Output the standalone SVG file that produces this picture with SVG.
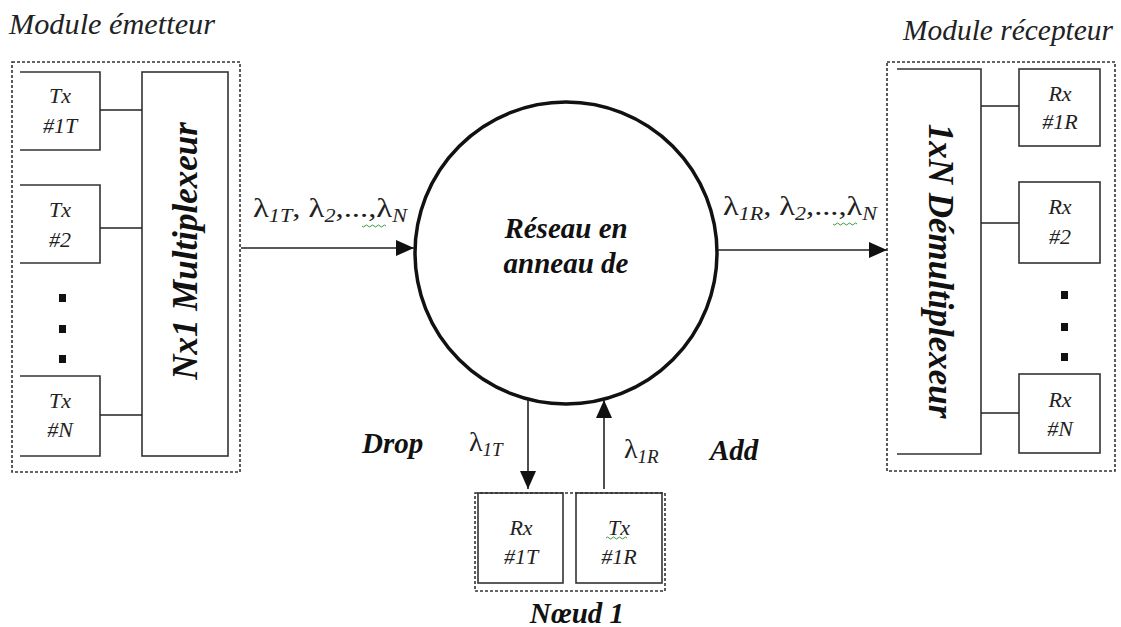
<svg xmlns="http://www.w3.org/2000/svg" width="1121" height="627" viewBox="0 0 1121 627">
<style>
.dash{fill:none;stroke:#333;stroke-width:1.6;stroke-dasharray:3,2}
.box{fill:none;stroke:#333;stroke-width:1.6}
.ln{fill:none;stroke:#222;stroke-width:1.6}
.lbl{font-family:"Liberation Serif",serif;font-style:italic;font-size:22px;fill:#222;text-anchor:middle}
.ttl{font-family:"Liberation Serif",serif;font-style:italic;font-size:29px;fill:#222}
.big{font-family:"Liberation Serif",serif;font-style:italic;font-weight:bold;font-size:29px;fill:#111}
.rot{font-family:"Liberation Serif",serif;font-style:italic;font-weight:bold;font-size:35px;fill:#111;text-anchor:middle}
.lam{font-family:"Liberation Serif",serif;font-size:28px;fill:#222}
.sub{font-style:italic;font-size:19px}
.dot{fill:#111}
.sq{fill:none;stroke:#3a9a3a;stroke-width:1}
</style>
<defs>
<marker id="ah" viewBox="0 0 10 10" refX="10" refY="5" markerWidth="18" markerHeight="16" markerUnits="userSpaceOnUse" orient="auto" preserveAspectRatio="none">
<path d="M0,0 L10,5 L0,10 Z" fill="#111"/>
</marker>
</defs>

<text class="ttl" x="9" y="34" textLength="206" lengthAdjust="spacingAndGlyphs">Module émetteur</text>
<text class="ttl" x="903" y="40" textLength="210" lengthAdjust="spacingAndGlyphs">Module récepteur</text>

<g id="emetteur">
<rect class="dash" x="12" y="62" width="228" height="410"/>
</g>
<g id="tx1">
<path class="box" d="M20,72 H100 V150 H20"/>
<text class="lbl" x="60" y="103">Tx</text>
<text class="lbl" x="60" y="133">#1T</text>
</g>
<g id="tx2">
<path class="box" d="M20,185 H100 V263 H20"/>
<text class="lbl" x="60" y="217">Tx</text>
<text class="lbl" x="60" y="247">#2</text>
</g>
<g id="txdots">
<rect class="dot" x="59" y="294" width="7" height="8"/>
<rect class="dot" x="59" y="325" width="7" height="8"/>
<rect class="dot" x="59" y="355" width="7" height="8"/>
</g>
<g id="txN">
<path class="box" d="M20,376 H100 V456 H20"/>
<text class="lbl" x="60" y="408">Tx</text>
<text class="lbl" x="60" y="437">#N</text>
</g>
<g id="mux">
<rect class="box" x="142" y="72" width="86" height="384"/>
<text class="rot" transform="translate(197,251) rotate(-90)" x="0" y="0">Nx1 Multiplexeur</text>
</g>

<g id="recepteur">
<rect class="dash" x="887" y="62" width="228" height="409"/>
</g>
<g id="demux">
<path class="box" d="M897,69 H981 V454 H897"/>
<text class="rot" transform="translate(929,271) rotate(90)" x="0" y="0">1xN Démultiplexeur</text>
</g>
<g id="rx1">
<rect class="box" x="1019" y="69" width="81" height="77"/>
<text class="lbl" x="1060" y="101">Rx</text>
<text class="lbl" x="1060" y="129">#1R</text>
</g>
<g id="rx2">
<rect class="box" x="1019" y="182" width="81" height="81"/>
<text class="lbl" x="1060" y="214">Rx</text>
<text class="lbl" x="1060" y="244">#2</text>
</g>
<g id="rxdots">
<rect class="dot" x="1061" y="291" width="7" height="8"/>
<rect class="dot" x="1061" y="323" width="7" height="8"/>
<rect class="dot" x="1061" y="353" width="7" height="8"/>
</g>
<g id="rxN">
<rect class="box" x="1019" y="374" width="81" height="79"/>
<text class="lbl" x="1060" y="407">Rx</text>
<text class="lbl" x="1060" y="436">#N</text>
</g>

<g id="anneau">
<circle cx="566" cy="253" r="151" fill="none" stroke="#111" stroke-width="3.5"/>
<text class="big" x="566" y="238" text-anchor="middle">Réseau en</text>
<text class="big" x="566" y="273" text-anchor="middle">anneau de</text>
</g>

<g id="noeud1">
<rect class="dash" x="475" y="493" width="190" height="98"/>
<text class="big" x="577" y="623" text-anchor="middle">Nœud 1</text>
</g>
<g id="rx1T">
<rect class="box" x="478" y="493" width="85" height="90"/>
<text class="lbl" x="521" y="535">Rx</text>
<text class="lbl" x="521" y="564">#1T</text>
</g>
<g id="tx1R">
<rect class="box" x="576" y="493" width="86" height="90"/>
<text class="lbl" x="619" y="535">Tx</text>
<text class="lbl" x="619" y="564">#1R</text>
<path class="sq" d="M606,538 q1.5,-2 3,0 t3,0 t3,0 t3,0 t3,0 t3,0 t3,0"/>
</g>

<g id="connectors">
<line class="ln" x1="100" y1="110" x2="142" y2="110"/>
<line class="ln" x1="100" y1="228" x2="142" y2="228"/>
<line class="ln" x1="100" y1="415" x2="142" y2="415"/>
<line class="ln" x1="981" y1="106" x2="1019" y2="106"/>
<line class="ln" x1="981" y1="223" x2="1019" y2="223"/>
<line class="ln" x1="981" y1="413" x2="1019" y2="413"/>
<line class="ln" x1="241" y1="248" x2="414" y2="248" marker-end="url(#ah)"/>
<line class="ln" x1="718" y1="250" x2="887" y2="250" marker-end="url(#ah)"/>
<line class="ln" x1="528" y1="400" x2="528" y2="489" marker-end="url(#ah)"/>
<line class="ln" x1="604" y1="489" x2="604" y2="400" marker-end="url(#ah)"/>
</g>

<g id="labels">
<text class="lam" x="253" y="217" textLength="154" lengthAdjust="spacingAndGlyphs">λ<tspan class="sub" dy="5">1T</tspan><tspan dy="-5">, λ</tspan><tspan class="sub" dy="5">2</tspan><tspan dy="-5">,...,λ</tspan><tspan class="sub" dy="5">N</tspan></text>
<path class="sq" d="M362,226 q1.5,2 3,0 t3,0 t3,0 t3,0 t3,0 t3,0 t3,0 t3,0"/>
<text class="lam" x="723" y="215" textLength="154" lengthAdjust="spacingAndGlyphs">λ<tspan class="sub" dy="5">1R</tspan><tspan dy="-5">, λ</tspan><tspan class="sub" dy="5">2</tspan><tspan dy="-5">,...,λ</tspan><tspan class="sub" dy="5">N</tspan></text>
<path class="sq" d="M833,224 q1.5,2 3,0 t3,0 t3,0 t3,0 t3,0 t3,0 t3,0 t3,0"/>
<text class="big" x="362" y="453">Drop</text>
<text class="lam" x="469" y="451">λ<tspan class="sub" dy="5">1T</tspan></text>
<text class="lam" x="624" y="458">λ<tspan class="sub" dy="5">1R</tspan></text>
<text class="big" x="710" y="460">Add</text>
</g>
</svg>
